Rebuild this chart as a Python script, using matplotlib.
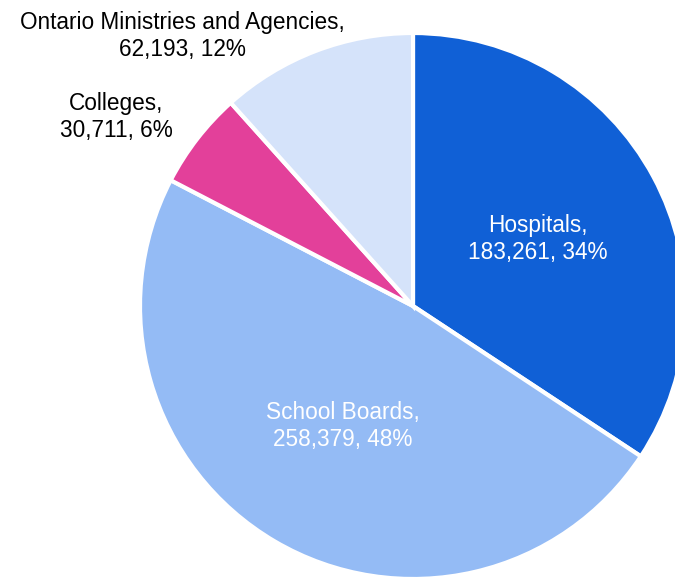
import matplotlib
matplotlib.use("Agg")
import matplotlib.pyplot as plt
import numpy as np

sectors = ["Hospitals", "School Boards", "Colleges", "Ontario Ministries and Agencies"]
employees = [183261, 258379, 30711, 62193]
colors = ["#1060D6", "#94BBF5", "#E3409A", "#D5E3FA"]
text_colors = ["white", "white", "black", "black"]

fig = plt.figure(figsize=(6.75, 5.77), dpi=100)
ax = fig.add_axes([0, 0, 1, 1])

total = sum(employees)
R = 273
wedges, _ = ax.pie(employees, radius=R, startangle=90, counterclock=False,
                   colors=colors, wedgeprops=dict(edgecolor="white", linewidth=3))

# pie() resets the limits, so place the view afterwards (1 unit = 1 px)
ax.set_xlim(-413, 675 - 413)
ax.set_ylim(-(577 - 306), 306)
ax.set_aspect("equal")
ax.axis("off")

# label placement: (fraction of radius, angle in degrees); None -> wedge mid-angle
label_pos = [(0.52, None), (0.51, None), (1.29, 147.5), (1.30, 130.5)]
for w, name, val, tc, (r, ang) in zip(wedges, sectors, employees, text_colors, label_pos):
    if ang is None:
        ang = (w.theta1 + w.theta2) / 2
    a = np.deg2rad(ang)
    pct = round(val / total * 100)
    ax.text(r * R * np.cos(a), r * R * np.sin(a),
            f"{name},\n{val:,}, {pct}%", ha="center", va="center",
            color=tc, fontsize=16.3, family="Liberation Sans", linespacing=1.24)

fig.savefig("out.png", dpi=100)
